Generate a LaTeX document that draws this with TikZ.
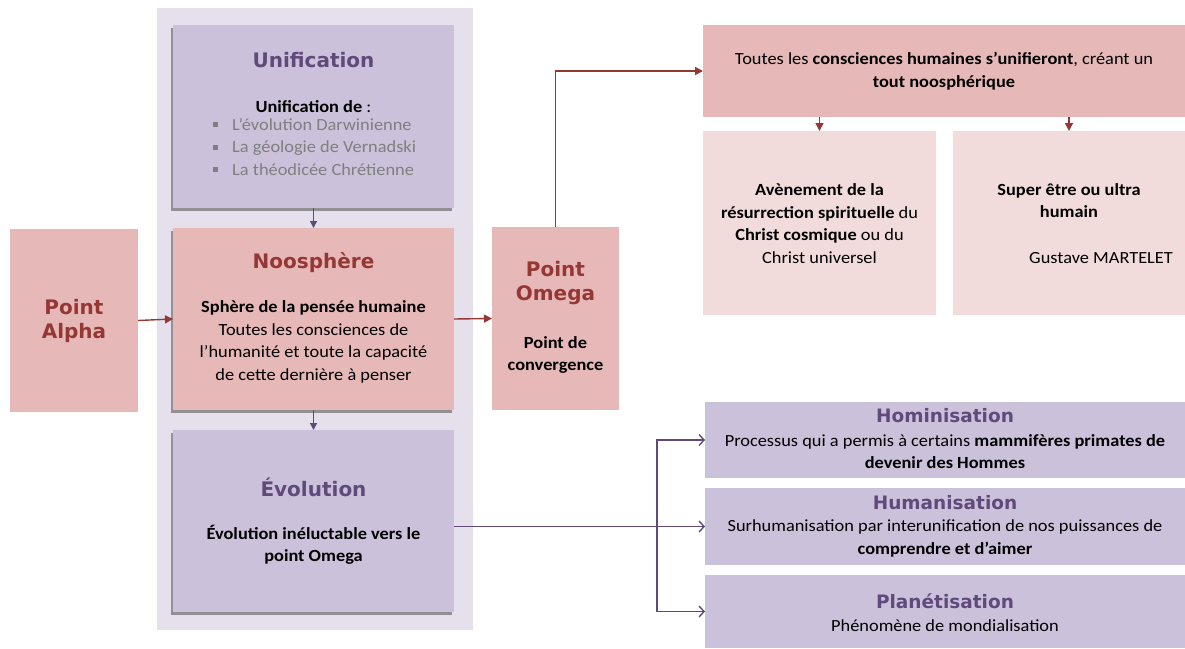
\documentclass[tikz,border=0pt]{standalone}
\usepackage{fontspec}
\setmainfont{Carlito}[FakeStretch=1.08]
\newfontfamily\titlefont{DejaVu Sans}
\usetikzlibrary{
	arrows.meta,
	calc,
	shadows,
	positioning
}
\definecolor{PinkBox}{RGB}{230,185,184}
\definecolor{PalePink}{RGB}{242,220,219}
\definecolor{Lavender}{RGB}{204,193,218}
\definecolor{PanelBg}{RGB}{229,224,236}
\definecolor{DarkRed}{RGB}{149,55,53}
\definecolor{DarkPurple}{RGB}{96,74,123}
\definecolor{ListGray}{RGB}{127,127,127}

\tikzset{
	box/.style={inner sep=0pt, outer sep=0pt},
	shadowbox/.style={box, drop shadow={shadow xshift=-2.5pt, shadow yshift=-3pt, opacity=.5, fill=black!75}},
	txt/.style={align=center, font=\fontsize{17}{22.5}\selectfont, inner sep=0pt},
	titlered/.style={font=\titlefont\bfseries\fontsize{20}{24}\selectfont, text=DarkRed, align=center, inner sep=0pt},
	titlepurple/.style={font=\titlefont\bfseries\fontsize{20}{24}\selectfont, text=DarkPurple, align=center, inner sep=0pt},
	redarrow/.style={draw=DarkRed, line width=1.4pt, -{Triangle[length=8pt,width=8pt]}},
	purplearrow/.style={draw=DarkPurple, line width=1.2pt, -{Triangle[length=7pt,width=7pt]}},
	forkarrow/.style={draw=DarkPurple, line width=1.4pt, -{Straight Barb[length=5pt,width=11pt,line width=1.4pt]}}
}
\newcommand{\sqbullet}{\makebox[19pt][l]{\textcolor{ListGray}{\rule[3pt]{5pt}{5pt}}}}

\begin{document}
\begin{tikzpicture}[x=1pt, y=-1pt]
	\useasboundingbox (0,0) rectangle (1185,648);
	% panel behind the middle column
	\fill[PanelBg] (157,8) rectangle (473,630);

	% middle column
	\node[shadowbox, fill=Lavender, minimum width=281pt, minimum height=183pt] (unif) at (313.5,116.5) {};
	\node[shadowbox, fill=PinkBox, minimum width=281pt, minimum height=182pt] (noo) at (313.5,319) {};
	\node[shadowbox, fill=Lavender, minimum width=281pt, minimum height=182pt] (evo) at (313.5,521) {};

	\node[titlepurple] (unift) at (313.5,60) {Unification};
	\node[txt, anchor=base] (unifd) at (313.5,112) {\textbf{Unification de} :};
	\node[txt, anchor=north west, align=left, text=ListGray] (unifl) at (213,118)
		{\sqbullet L'évolution Darwinienne\\ \sqbullet La géologie de Vernadski\\ \sqbullet La théodicée Chrétienne};

	\node[titlered] (noot) at (313.5,263) {Noosphère};
	\node[txt] (nood) at (313.5,342) {\textbf{Sphère de la pensée humaine}\\ Toutes les consciences de\\ l'humanité et toute la capacité\\ de cette dernière à penser};

	\node[titlepurple] (evot) at (313.5,487) {Évolution};
	\node[txt] (evod) at (313.5,545) {\textbf{Évolution inéluctable vers le}\\ \textbf{point Omega}};

	% alpha and omega
	\node[box, fill=PinkBox, minimum width=128pt, minimum height=183pt] (alpha) at (74,320.5) {};
	\node[titlered] (alphat) at (74,321) {Point\\ Alpha};
	\node[box, fill=PinkBox, minimum width=127pt, minimum height=183pt] (omega) at (555.5,318.5) {};
	\node[titlered] (omegat) at (555.5,283.5) {Point\\ Omega};
	\node[txt] (omegad) at (555.5,355) {\textbf{Point de}\\ \textbf{convergence}};

	% upper right
	\node[box, fill=PinkBox, minimum width=482pt, minimum height=92pt] (tout) at (944,71) {};
	\node[txt] (toutd) at (944,71) {Toutes les \textbf{consciences humaines s'unifieront}, créant un\\ \textbf{tout noosphérique}};
	\node[box, fill=PalePink, minimum width=233pt, minimum height=184pt] (christ) at (819.5,223) {};
	\node[txt] (christd) at (819.5,223.5) {\textbf{Avènement de la}\\ \textbf{résurrection spirituelle} du\\ \textbf{Christ cosmique} ou du\\ Christ universel};
	\node[box, fill=PalePink, minimum width=232pt, minimum height=184pt] (super) at (1069,223) {};
	\node[txt] (superd) at (1069,200.5) {\textbf{Super être ou ultra}\\ \textbf{humain}};
	\node[txt] (superg) at (1101,258) {Gustave MARTELET};

	% lower right
	\node[box, fill=Lavender, minimum width=480pt, minimum height=76pt] (homin) at (945,440) {};
	\node[titlepurple, font=\titlefont\bfseries\fontsize{18.5}{22}\selectfont] (hominlt) at (945,416) {Hominisation};
	\node[txt] (homind) at (945,451.5) {Processus qui a permis à certains \textbf{mammifères primates de}\\ \textbf{devenir des Hommes}};
	\node[box, fill=Lavender, minimum width=480pt, minimum height=77pt] (human) at (945,526.5) {};
	\node[titlepurple, font=\titlefont\bfseries\fontsize{18.5}{22}\selectfont] (humant) at (945,503) {Humanisation};
	\node[txt] (humand) at (945,538.5) {Surhumanisation par interunification de nos puissances de\\ \textbf{comprendre et d'aimer}};
	\node[box, fill=Lavender, minimum width=480pt, minimum height=73pt] (planet) at (945,611.5) {};
	\node[titlepurple, font=\titlefont\bfseries\fontsize{18.5}{22}\selectfont] (planett) at (945,601) {Planétisation};
	\node[txt] (planetd) at (945,626) {Phénomène de mondialisation};

	% connectors
	\draw[purplearrow] (unif.south) -- (noo.north);
	\draw[purplearrow] (noo.south) -- (evo.north);
	\draw[redarrow] (alpha.east) -- (noo.west);
	\draw[redarrow] (noo.east) -- (omega.west);
	\draw[redarrow] (omega.north) |- (tout.west);
	\draw[redarrow] (tout.south -| christ.north) -- (christ.north);
	\draw[redarrow] (tout.south -| super.north) -- (super.north);

	\coordinate (fork) at (657,526.5);
	\draw[forkarrow] (evo.east |- human.west) -- (human.west);
	\draw[forkarrow] (fork) |- (homin.west);
	\draw[forkarrow] (fork) |- (planet.west);
\end{tikzpicture}
\end{document}
